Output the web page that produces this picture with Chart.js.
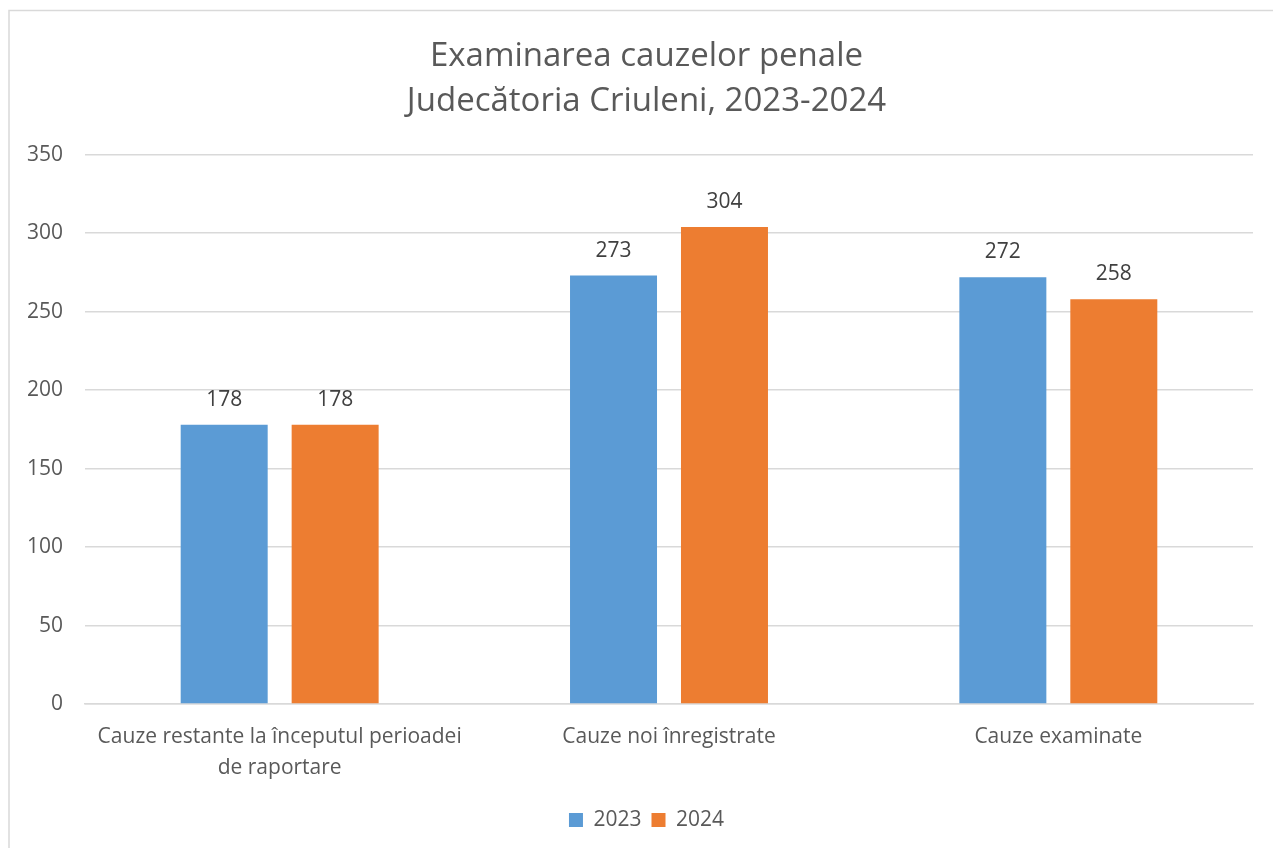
<!DOCTYPE html>
<html>
<head>
<meta charset="utf-8">
<script src="https://cdn.jsdelivr.net/npm/chart.js@4.4.1/dist/chart.umd.min.js"></script>
<style>
html,body{margin:0;padding:0;background:#fff;overflow:hidden;}
#wrap{position:absolute;left:0;top:0;width:1273px;height:848px;}
</style>
</head>
<body>
<div id="wrap"><canvas id="c" width="1273" height="848"></canvas></div>
<script>
const categories = [["Cauze restante la începutul perioadei","de raportare"], "Cauze noi înregistrate", "Cauze examinate"];
const seriesNames = ["2023", "2024"];
const values2023 = [178, 273, 272];
const values2024 = [178, 304, 258];
const yTicks = [0, 50, 100, 150, 200, 250, 300, 350];
const titleLines = ["Examinarea cauzelor penale", "Judecătoria Criuleni, 2023-2024"];

const FONT = "'Open Sans', 'Liberation Sans', sans-serif";
const TXT = '#595959';

const borderPlugin = {
  id: 'outerBorder',
  beforeDraw(chart) {
    const ctx = chart.ctx;
    ctx.save();
    ctx.fillStyle = '#fff';
    ctx.fillRect(0, 0, chart.width, chart.height);
    ctx.strokeStyle = '#d9d9d9';
    ctx.lineWidth = 1.5;
    ctx.strokeRect(9, 10.5, chart.width + 20, chart.height + 20);
    ctx.restore();
  }
};

const labelPlugin = {
  id: 'valueLabels',
  afterDatasetsDraw(chart) {
    const ctx = chart.ctx;
    ctx.save();
    ctx.font = "21px " + FONT;
    ctx.fillStyle = '#404040';
    ctx.textAlign = 'center';
    ctx.textBaseline = 'middle';
    chart.data.datasets.forEach((ds, i) => {
      const meta = chart.getDatasetMeta(i);
      meta.data.forEach((bar, j) => {
        ctx.fillText(String(ds.data[j]), bar.x, bar.y - 25);
      });
    });
    ctx.restore();
  }
};

new Chart(document.getElementById('c'), {
  type: 'bar',
  data: {
    labels: categories,
    datasets: [
      { label: seriesNames[0], data: values2023, backgroundColor: '#5b9bd5' },
      { label: seriesNames[1], data: values2024, backgroundColor: '#ed7d31' }
    ]
  },
  options: {
    responsive: false,
    animation: false,
    devicePixelRatio: 1,
    categoryPercentage: 0.57,
    barPercentage: 0.784,
    layout: { padding: { left: 40, right: 20, top: 0, bottom: 7.5 } },
    plugins: {
      title: {
        display: true,
        text: titleLines,
        color: TXT,
        font: { family: FONT, size: 33, weight: 'normal', lineHeight: 1.36 },
        padding: { top: 34, bottom: 31 }
      },
      legend: {
        position: 'bottom',
        labels: {
          color: TXT,
          font: { family: FONT, size: 21 },
          boxWidth: 14,
          boxHeight: 14,
          padding: 10
        }
      },
      tooltip: { enabled: false }
    },
    scales: {
      x: {
        afterFit(scale) { scale.height = 95.5; },
        grid: { display: false, drawTicks: false },
        border: { display: true, color: '#d9d9d9', width: 1.5 },
        ticks: { color: TXT, font: { family: FONT, size: 21, lineHeight: 1.5 }, padding: 17, maxRotation: 0, autoSkip: false }
      },
      y: {
        min: 0, max: 350,
        afterFit(scale) {
          scale.width = 45;
          scale._computeLabelArea = function () {
            return { top: 0, left: 0, bottom: this.chart.height, right: this.right };
          };
        },
        afterBuildTicks(scale) { scale.ticks = yTicks.map(v => ({ value: v })); },
        grid: { color: '#d9d9d9', lineWidth: 1.5, drawTicks: false },
        border: { display: false },
        ticks: { color: TXT, font: { family: FONT, size: 21 }, padding: 22 }
      }
    }
  },
  plugins: [borderPlugin, labelPlugin]
});
</script>
</body>
</html>
